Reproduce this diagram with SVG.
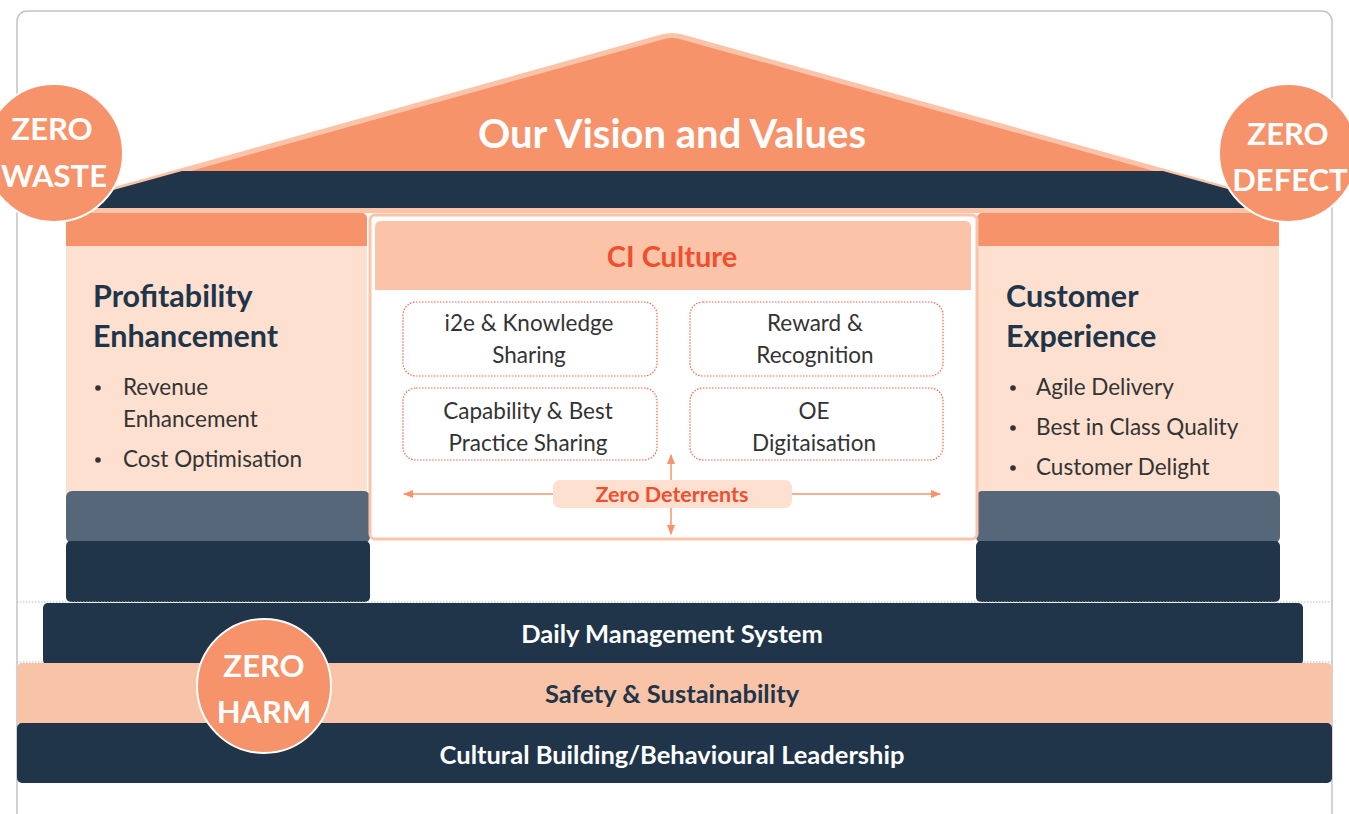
<svg xmlns="http://www.w3.org/2000/svg" width="1349" height="814" viewBox="0 0 1349 814">
<style>
.t{font-family:Lato,"Open Sans","Liberation Sans",sans-serif}
.b{font-weight:bold}
.circ{fill:#f6936b;stroke:#ffffff;stroke-width:2}
.ct{font-family:Lato,"Open Sans","Liberation Sans",sans-serif;font-weight:bold;font-size:31px;fill:#ffffff;text-anchor:middle}
.body{font-family:Lato,"Open Sans","Liberation Sans",sans-serif;font-size:22.5px;fill:#333333}
.head{font-family:Lato,"Open Sans","Liberation Sans",sans-serif;font-weight:bold;font-size:30.5px;fill:#203549}
.dbox{fill:#ffffff;stroke:#f0654a;stroke-width:1.2;stroke-dasharray:1.5 1.5}
.dark{fill:#203549}
.slate{fill:#56677a}
.cap{fill:#f6936b}
.pbody{fill:#fde0d0}
.band{font-family:Lato,"Open Sans","Liberation Sans",sans-serif;font-weight:bold;font-size:25.5px;text-anchor:middle}
.arr{stroke:#f6936b;stroke-width:1.5;fill:none}
</style>
<defs>
<marker id="ah" viewBox="0 0 10 10" refX="9" refY="5" markerWidth="7" markerHeight="7" orient="auto-start-reverse">
<path d="M0,1 L10,5 L0,9 z" fill="#f6936b"/>
</marker>
</defs>
<rect x="17" y="11" width="1315" height="820" rx="10" fill="#ffffff" stroke="#c4c4c8" stroke-width="1.5"/>

<g id="roof">
<path d="M48,208 L662,37 Q672,34 682,37 L1296,208 Z" fill="#f6936b" stroke="#fbc4a8" stroke-width="5" stroke-linejoin="round"/>
<path d="M48,208 L182,171 L1163,171 L1296,208 Z" class="dark"/>
<rect x="60" y="208" width="1230" height="5" fill="#fbc4a8"/>
<text x="672" y="148" class="t b" font-size="40" fill="#ffffff" text-anchor="middle">Our Vision and Values</text>
</g>

<g id="left-pillar">
<rect x="66" y="213" width="301" height="37" rx="5" class="cap"/>
<rect x="66" y="246" width="301" height="250" class="pbody"/>
<rect x="66" y="491" width="304" height="52" rx="6" class="slate"/>
<rect x="66" y="541" width="304" height="61" rx="5" class="dark"/>
<text class="head" x="93" y="307">Profitability</text>
<text class="head" x="93" y="347">Enhancement</text>
<circle cx="98" cy="388" r="2.8" fill="#333"/>
<text class="body" x="123" y="395">Revenue</text>
<text class="body" x="123" y="427">Enhancement</text>
<circle cx="98" cy="460" r="2.8" fill="#333"/>
<text class="body" x="123" y="467">Cost Optimisation</text>
</g>

<g id="right-pillar">
<rect x="977" y="213" width="302" height="37" rx="5" class="cap"/>
<rect x="977" y="246" width="302" height="250" class="pbody"/>
<rect x="976" y="491" width="304" height="52" rx="6" class="slate"/>
<rect x="976" y="541" width="304" height="61" rx="5" class="dark"/>
<text class="head" x="1006" y="307">Customer</text>
<text class="head" x="1006" y="347">Experience</text>
<circle cx="1013" cy="388" r="2.8" fill="#333"/>
<text class="body" x="1036" y="395">Agile Delivery</text>
<circle cx="1013" cy="428" r="2.8" fill="#333"/>
<text class="body" x="1036" y="435">Best in Class Quality</text>
<circle cx="1013" cy="468" r="2.8" fill="#333"/>
<text class="body" x="1036" y="475">Customer Delight</text>
</g>

<g id="ci-culture">
<rect x="370" y="215" width="607" height="324" rx="5" fill="#ffffff" stroke="#fbc4a8" stroke-width="3"/>
<path d="M375,290 L375,227 Q375,221 381,221 L965,221 Q971,221 971,227 L971,290 Z" fill="#fbc4a8"/>
<text x="672" y="267" class="t b" font-size="29" fill="#f04e2e" text-anchor="middle">CI Culture</text>
</g>

<g id="box-i2e">
<rect x="403" y="302" width="254" height="74" rx="13" class="dbox"/>
<text class="body" x="529" y="331" text-anchor="middle">i2e &amp; Knowledge</text>
<text class="body" x="529" y="363" text-anchor="middle">Sharing</text>
</g>
<g id="box-reward">
<rect x="690" y="302" width="253" height="74" rx="13" class="dbox"/>
<text class="body" x="815" y="331" text-anchor="middle">Reward &amp;</text>
<text class="body" x="815" y="363" text-anchor="middle">Recognition</text>
</g>
<g id="box-capability">
<rect x="403" y="388" width="254" height="72" rx="13" class="dbox"/>
<text class="body" x="528" y="419" text-anchor="middle">Capability &amp; Best</text>
<text class="body" x="528" y="451" text-anchor="middle">Practice Sharing</text>
</g>
<g id="box-oe">
<rect x="690" y="388" width="253" height="72" rx="13" class="dbox"/>
<text class="body" x="814" y="419" text-anchor="middle">OE</text>
<text class="body" x="814" y="451" text-anchor="middle">Digitaisation</text>
</g>

<g id="connectors">
<line x1="553" y1="494" x2="404" y2="494" class="arr" marker-end="url(#ah)"/>
<line x1="792" y1="494" x2="940" y2="494" class="arr" marker-end="url(#ah)"/>
<line x1="671" y1="480" x2="671" y2="455" class="arr" marker-end="url(#ah)"/>
<line x1="671" y1="508" x2="671" y2="534" class="arr" marker-end="url(#ah)"/>
</g>

<g id="zero-deterrents">
<rect x="553" y="480" width="239" height="28" rx="7" fill="#fde0d0"/>
<text x="672" y="502" class="t b" font-size="21.5" fill="#f04e2e" text-anchor="middle">Zero Deterrents</text>
</g>

<g id="foundation">
<line x1="17" y1="602" x2="1332" y2="602" stroke="#bbbbbb" stroke-width="1" stroke-dasharray="1.5 1.5"/>
<line x1="17" y1="662" x2="1332" y2="662" stroke="#bbbbbb" stroke-width="1" stroke-dasharray="1.5 1.5"/>
<g id="dms">
<rect x="43" y="603" width="1260" height="62" rx="5" class="dark"/>
<text x="672" y="643" class="band" fill="#ffffff">Daily Management System</text>
</g>
<g id="safety">
<rect x="17" y="663" width="1315" height="62" rx="5" fill="#f9c3a8"/>
<text x="672" y="703" class="band" fill="#203549">Safety &amp; Sustainability</text>
</g>
<g id="culture">
<rect x="17" y="723" width="1315" height="60" rx="5" class="dark"/>
<text x="672" y="764" class="band" fill="#ffffff">Cultural Building/Behavioural Leadership</text>
</g>
</g>

<g id="zero-waste">
<circle cx="54" cy="153" r="69" class="circ"/>
<text class="ct" x="52" y="140">ZERO</text>
<text class="ct" x="54" y="187">WASTE</text>
</g>
<g id="zero-defect">
<circle cx="1288" cy="153" r="69" class="circ"/>
<text class="ct" x="1288" y="145">ZERO</text>
<text class="ct" x="1290" y="191">DEFECT</text>
</g>
<g id="zero-harm">
<circle cx="264" cy="686" r="67" class="circ"/>
<text class="ct" x="264" y="677">ZERO</text>
<text class="ct" x="264" y="723">HARM</text>
</g>
</svg>
